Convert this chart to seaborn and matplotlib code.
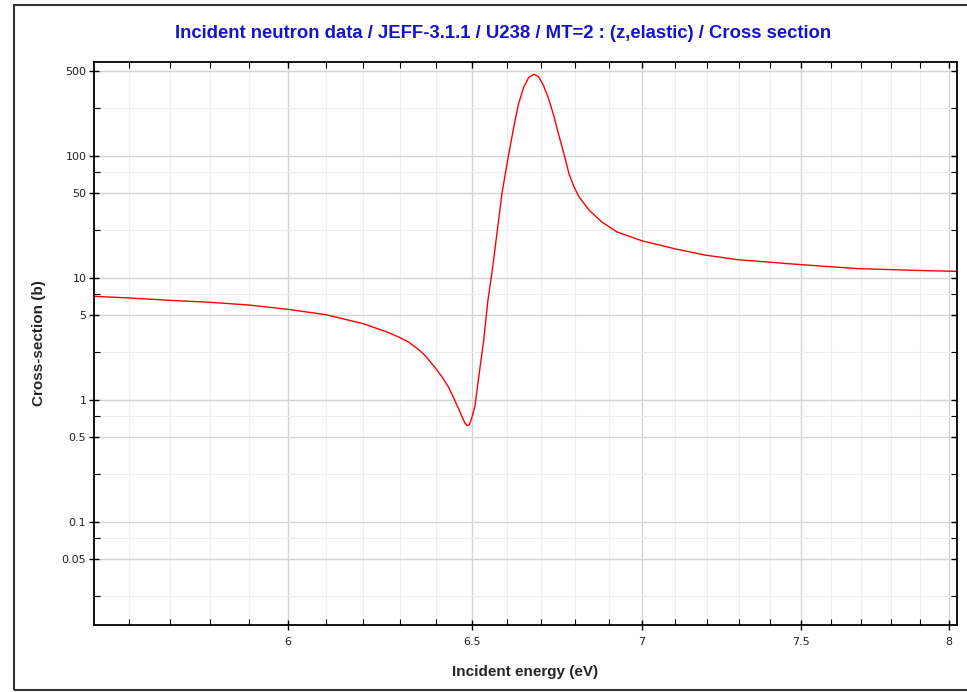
import numpy as np
import pandas as pd
import seaborn as sns
import matplotlib.pyplot as plt
from matplotlib.ticker import FixedLocator, NullFormatter, FixedFormatter
from matplotlib.patches import Rectangle

# values (energy in eV, cross-section in barns)
energy = [5.515, 5.6, 5.7, 5.8, 5.9, 6.0, 6.1, 6.2, 6.269, 6.297, 6.324,
          6.352, 6.370, 6.398, 6.417, 6.435, 6.449, 6.464, 6.473, 6.481,
          6.487, 6.493, 6.499, 6.509, 6.515, 6.525, 6.534, 6.540, 6.546,
          6.557, 6.562, 6.586, 6.604, 6.620, 6.634, 6.649, 6.663, 6.678,
          6.692, 6.706, 6.721, 6.736, 6.750, 6.766, 6.781, 6.796, 6.811,
          6.841, 6.879, 6.924, 7.0, 7.103, 7.195, 7.30, 7.5, 7.69, 7.895,
          8.03]
xs_barn = [7.12, 6.9, 6.6, 6.36, 6.04, 5.57, 5.04, 4.25, 3.59, 3.30, 3.00,
           2.60, 2.32, 1.84, 1.55, 1.28, 1.05, 0.84, 0.73, 0.65,
           0.62, 0.63, 0.70, 0.89, 1.21, 2.0, 3.1, 4.53, 6.6,
           10.9, 14.0, 49.4, 98.6, 174, 271, 370, 442, 470,
           449, 381, 297, 216, 153, 105, 72, 56, 46.4,
           36.1, 28.9, 24.0, 20.3, 17.4, 15.5, 14.2, 12.95, 12.0, 11.6,
           11.4]

x_major = [6, 6.5, 7, 7.5, 8]
x_major_labels = ["6", "6.5", "7", "7.5", "8"]
x_minor = [5.6, 5.7, 5.8, 5.9, 6.1, 6.2, 6.3, 6.4, 6.6, 6.7, 6.8, 6.9,
           7.1, 7.2, 7.3, 7.4, 7.6, 7.7, 7.8, 7.9]
y_major = [0.05, 0.1, 0.5, 1, 5, 10, 50, 100, 500]
y_major_labels = ["0.05", "0.1", "0.5", "1", "5", "10", "50", "100", "500"]
y_minor = [0.025, 0.075, 0.25, 0.75, 2.5, 7.5, 25, 75, 250]

title = "Incident neutron data / JEFF-3.1.1 / U238 / MT=2 : (z,elastic) / Cross section"

df = pd.DataFrame({"energy": energy, "xs": xs_barn})

sns.set_theme(style="white")
plt.rcParams["font.family"] = ["DejaVu Sans"]

fig = plt.figure(figsize=(9.67, 6.92), dpi=100)
ax = fig.add_axes([94 / 967, 1 - 625 / 692, (957 - 94) / 967, (625 - 62) / 692])

sns.lineplot(data=df, x="energy", y="xs", ax=ax, color="red", linewidth=1.0,
             sort=False, estimator=None)

ax.set_xscale("log")
ax.set_yscale("log")
ax.set_xlim(5.515, 8.028)
ax.set_ylim(0.0144, 593)

ax.xaxis.set_major_locator(FixedLocator(x_major))
ax.xaxis.set_major_formatter(FixedFormatter(x_major_labels))
ax.xaxis.set_minor_locator(FixedLocator(x_minor))
ax.xaxis.set_minor_formatter(NullFormatter())
ax.yaxis.set_major_locator(FixedLocator(y_major))
ax.yaxis.set_major_formatter(FixedFormatter(y_major_labels))
ax.yaxis.set_minor_locator(FixedLocator(y_minor))
ax.yaxis.set_minor_formatter(NullFormatter())

ax.grid(which="major", color="#d4d4d4", linewidth=1.0)
ax.grid(which="minor", color="#efefef", linewidth=0.8)
ax.set_axisbelow(True)

for side in ["left", "bottom", "top", "right"]:
    ax.spines[side].set_visible(True)
    ax.spines[side].set_color("black")
    ax.spines[side].set_linewidth(1.3)

ax.tick_params(which="major", direction="inout", length=7, width=1.0,
               colors="black", labelsize=8, labelcolor="#222222",
               bottom=True, left=True, top=False, right=False)
ax.tick_params(axis="x", which="major", pad=5)
ax.tick_params(axis="y", which="major", pad=2)
ax.tick_params(which="minor", direction="in", length=4, width=0.8,
               colors="black", bottom=True, left=True, top=True, right=True)
ax.tick_params(which="major", axis="both", top=True, right=True)
# top/right major ticks point inward only
for t in ax.xaxis.get_major_ticks():
    t.tick2line.set_marker(3)
    t.tick2line.set_markersize(4)
for t in ax.yaxis.get_major_ticks():
    t.tick2line.set_marker(0)
    t.tick2line.set_markersize(4)

ax.set_xlabel("Incident energy (eV)", fontsize=11, fontweight="bold",
              family=["Liberation Sans", "DejaVu Sans"], labelpad=13)
ax.set_ylabel("Cross-section (b)", fontsize=11, fontweight="bold",
              family=["Liberation Sans", "DejaVu Sans"], labelpad=11)

fig.text(503 / 967, 1 - 33 / 692, title, ha="center", va="center",
         fontsize=13.3, fontweight="bold", color="#1414cc",
         family=["Liberation Sans", "DejaVu Sans"])

fig.patches.append(Rectangle((14 / 967, 2 / 692), 1.0, 685 / 692,
                             transform=fig.transFigure, fill=False,
                             edgecolor="#333333", linewidth=1.5))

fig.savefig("out.png", dpi=100)
